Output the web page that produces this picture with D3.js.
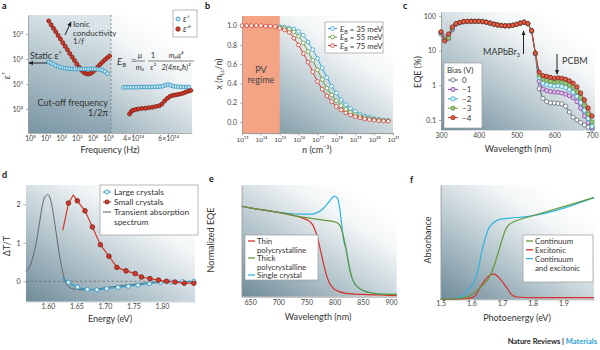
<!DOCTYPE html>
<html>
<head>
<meta charset="utf-8">
<script src="https://cdn.jsdelivr.net/npm/d3@7"></script>
<style>
  body { margin: 0; background: #fff; }
</style>
</head>
<body>
<script>
// ---------- DATA ----------
// a: dielectric spectrum. low-frequency part: log10(f / Hz) and log10(value)
const aLogF = [1.2, 1.35, 1.5, 1.65, 1.8, 1.95, 2.1, 2.25, 2.4, 2.55, 2.7, 2.85, 3.0, 3.15, 3.3, 3.45, 3.6, 3.75, 3.9, 4.05, 4.2, 4.35, 4.5, 4.65, 4.8, 4.95, 5.1];
const aEps2Low = [3.52, 3.37, 3.23, 3.09, 2.94, 2.80, 2.65, 2.51, 2.37, 2.22, 2.08, 1.94, 1.80, 1.67, 1.55, 1.46, 1.41, 1.40, 1.43, 1.50, 1.59, 1.69, 1.79, 1.88, 1.97, 2.05, 2.12];
const aEps1Low = [1.88, 1.84, 1.79, 1.74, 1.70, 1.67, 1.65, 1.63, 1.62, 1.61, 1.60, 1.60, 1.60, 1.60, 1.60, 1.60, 1.60, 1.60, 1.60, 1.60, 1.60, 1.59, 1.58, 1.55, 1.50, 1.42];
// optical part: f in units of 1e14 Hz
const aHighF1 = [3.45, 3.6, 3.75, 3.9, 4.05, 4.2, 4.35, 4.5, 4.65, 4.8, 4.95, 5.1, 5.25, 5.4, 5.55, 5.7, 5.85, 6.0, 6.15, 6.3, 6.45, 6.6, 6.75, 6.9, 7.05, 7.2];
const aEps1High = [0.86, 0.87, 0.87, 0.87, 0.87, 0.87, 0.88, 0.88, 0.88, 0.88, 0.88, 0.88, 0.89, 0.89, 0.9, 0.91, 0.95, 0.98, 0.95, 0.91, 0.9, 0.89, 0.88, 0.88, 0.88, 0.88];
const aHighF2 = [3.8, 3.9, 4.0, 4.15, 4.3, 4.5, 4.7, 4.9, 5.1, 5.3, 5.5, 5.65, 5.8, 5.95, 6.1, 6.25, 6.4, 6.55, 6.7, 6.85, 7.0, 7.15, 7.3];
const aEps2High = [-0.2, -0.1, -0.05, -0.02, 0.0, 0.02, 0.03, 0.05, 0.07, 0.1, 0.13, 0.2, 0.32, 0.42, 0.5, 0.54, 0.56, 0.58, 0.6, 0.63, 0.67, 0.71, 0.74];
const aYTicks = [0, 1, 2, 3];
const aXTicksLow = [0, 1, 2, 3, 4, 5];
const aXTicksHigh = [4, 6];

// b: fraction of free carriers vs log10(n / cm^-3)
const bLogN = [13, 13.25, 13.5, 13.75, 14, 14.25, 14.5, 14.75, 15, 15.25, 15.5, 15.75, 16, 16.25, 16.5, 16.75, 17, 17.25, 17.5, 17.75, 18, 18.25, 18.5, 18.75, 19, 19.25, 19.5, 19.75, 20, 20.25, 20.5, 20.75];
const bRed = [1.0, 1.0, 1.0, 1.0, 1.0, 0.995, 0.995, 0.99, 0.97, 0.955, 0.93, 0.87, 0.80, 0.71, 0.62, 0.52, 0.42, 0.34, 0.27, 0.21, 0.16, 0.125, 0.095, 0.072, 0.055, 0.042, 0.032, 0.024, 0.018, 0.013, 0.01, 0.007];
const bBlue = [0.99, 0.985, 0.975, 0.965, 0.94, 0.90, 0.83, 0.75, 0.66, 0.56, 0.46, 0.37, 0.30, 0.23, 0.18, 0.14, 0.11, 0.08, 0.06, 0.05, 0.035, 0.027, 0.02, 0.015];
const bGreen = [0.98, 0.975, 0.96, 0.935, 0.89, 0.82, 0.73, 0.64, 0.54, 0.44, 0.35, 0.28, 0.22, 0.17, 0.13, 0.10, 0.075, 0.06, 0.045, 0.035, 0.027, 0.02, 0.015, 0.011];
const bEnergies = ['35', '55', '75'];
const bYTicks = [0, 0.2, 0.4, 0.6, 0.8, 1.0];
const bXTicks = [13, 14, 15, 16, 17, 18, 19, 20, 21];

// c: EQE (%) vs wavelength under bias
const cWave = [300, 310, 320, 330, 340, 350, 360, 370, 380, 390, 400, 410, 420, 430, 440, 450, 460, 470, 480, 490, 500, 510, 520, 530, 540, 550, 560, 570, 580, 590, 600, 610, 620, 630, 640, 650, 660, 670, 680, 690, 700];
const cBias0 = [30, 25, 22, 40, 58, 64, 68, 69, 70, 70, 70, 69, 66, 62, 58, 55, 53, 52, 52, 54, 57, 62, 66, 60, 36, 8, 0.8, 0.42, 0.34, 0.31, 0.31, 0.3, 0.29, 0.25, 0.17, 0.12, 0.1, 0.085, 0.072, 0.062, 0.054];
const cBias1 = [32, 23, 24, 42, 59, 64, 68, 69, 70, 70, 70, 69, 66, 62, 58, 55, 53, 52, 52, 54, 57, 62, 66, 60, 37, 8.2, 1.3, 0.78, 0.7, 0.66, 0.64, 0.63, 0.6, 0.56, 0.5, 0.44, 0.34, 0.22, 0.13, 0.085, 0.06];
const cBias2 = [33, 22, 26, 44, 59, 64, 68, 69, 70, 70, 70, 69, 66, 62, 58, 55, 53, 52, 52, 54, 57, 62, 66, 60, 37, 8.3, 1.7, 1.15, 1.05, 1.0, 0.95, 0.97, 0.93, 0.86, 0.75, 0.63, 0.48, 0.32, 0.19, 0.11, 0.065];
const cBias3 = [34, 21, 24, 46, 60, 65, 68, 69, 70, 70, 70, 69, 66, 62, 58, 55, 53, 52, 52, 54, 57, 62, 66, 60, 38, 8.4, 2.0, 1.5, 1.4, 1.3, 1.25, 1.28, 1.25, 1.15, 1.0, 0.85, 0.65, 0.45, 0.27, 0.15, 0.088];
const cBias4 = [35, 19, 30, 48, 60, 65, 69, 70, 70, 70, 70, 69, 66, 62, 58, 55, 53, 52, 52, 54, 57, 62, 66, 60, 38, 8.5, 2.4, 1.9, 1.8, 1.7, 1.6, 1.65, 1.6, 1.5, 1.35, 1.15, 0.9, 0.6, 0.38, 0.22, 0.13];
const cBiasLabels = ['0', '\u22121', '\u22122', '\u22123', '\u22124'];
const cYTicks = [0.1, 1, 10, 100];
const cXTicks = [300, 400, 500, 600, 700];

// d: ΔT/T vs energy (eV)
const dGrayE = [1.5615, 1.57, 1.575, 1.58, 1.585, 1.59, 1.595, 1.60, 1.605, 1.61, 1.615, 1.62, 1.625, 1.63, 1.635, 1.64, 1.65, 1.66, 1.67, 1.68, 1.70, 1.72, 1.74, 1.76, 1.78, 1.80, 1.83, 1.858];
const dGrayV = [0.25, 0.45, 0.7, 1.05, 1.5, 1.95, 2.2, 2.25, 2.1, 1.7, 1.2, 0.7, 0.3, 0.0, -0.12, -0.18, -0.21, -0.22, -0.22, -0.21, -0.17, -0.13, -0.09, -0.06, -0.03, -0.02, -0.02, -0.01];
const dBlueE = [1.626, 1.636, 1.652, 1.669, 1.686, 1.703, 1.723, 1.741, 1.758, 1.778, 1.797, 1.816, 1.836, 1.856];
const dBlueV = [0.07, -0.03, -0.15, -0.21, -0.22, -0.19, -0.16, -0.13, -0.1, -0.06, -0.03, -0.02, -0.01, 0.0];
const dRedE = [1.626, 1.636, 1.6446, 1.6515, 1.665, 1.678, 1.692, 1.707, 1.721, 1.737, 1.753, 1.764, 1.779, 1.794, 1.808, 1.823, 1.839, 1.856];
const dRedV = [1.32, 2.03, 2.24, 2.09, 1.83, 1.41, 0.95, 0.65, 0.36, 0.27, 0.2, 0.11, 0.07, 0.03, 0.0, -0.02, -0.05, -0.05];
const dXTicks = [1.60, 1.65, 1.70, 1.75, 1.80];
const dYTicks = [0, 1, 2];

// e: normalized EQE vs wavelength (nm)
const eRedW = [635, 650, 675, 700, 720, 740, 750, 760, 765, 770, 775, 780, 785, 790, 795, 800, 820, 850, 880, 910];
const eRedV = [0.81, 0.795, 0.775, 0.755, 0.735, 0.71, 0.69, 0.65, 0.60, 0.52, 0.41, 0.30, 0.20, 0.13, 0.09, 0.065, 0.03, 0.02, 0.015, 0.01];
const eGreenW = [635, 650, 675, 700, 720, 740, 760, 780, 800, 805, 810, 815, 820, 825, 830, 835, 840, 850, 870, 890, 910];
const eGreenV = [0.81, 0.795, 0.775, 0.755, 0.735, 0.715, 0.70, 0.685, 0.67, 0.66, 0.63, 0.55, 0.43, 0.29, 0.18, 0.12, 0.09, 0.055, 0.03, 0.02, 0.02];
const eBlueW = [635, 650, 675, 700, 720, 740, 760, 770, 780, 790, 800, 805, 810, 813, 816, 820, 825, 830, 835, 840, 850, 870, 890, 910];
const eBlueV = [0.81, 0.795, 0.775, 0.755, 0.745, 0.74, 0.74, 0.755, 0.79, 0.85, 0.90, 0.88, 0.75, 0.62, 0.50, 0.43, 0.29, 0.18, 0.12, 0.09, 0.055, 0.03, 0.02, 0.02];
const eXTicks = [650, 700, 750, 800, 850, 900];

// f: absorbance vs photoenergy (eV)
const fGreenE = [1.5, 1.55, 1.58, 1.60, 1.62, 1.64, 1.66, 1.675, 1.69, 1.70, 1.71, 1.72, 1.74, 1.76, 1.786, 2.0];
const fGreenV = [0, 0.005, 0.015, 0.04, 0.08, 0.13, 0.2, 0.3, 0.43, 0.52, 0.6, 0.645, 0.68, 0.70, 0.72, 0.89];
const fBlueE = [1.5, 1.54, 1.563, 1.58, 1.596, 1.612, 1.623, 1.634, 1.645, 1.655, 1.672, 1.693, 1.726, 1.786, 2.0];
const fBlueV = [0, 0.005, 0.02, 0.05, 0.1, 0.17, 0.27, 0.42, 0.53, 0.61, 0.67, 0.70, 0.71, 0.725, 0.89];
const fRedE = [1.5, 1.58, 1.60, 1.612, 1.628, 1.645, 1.66, 1.674, 1.69, 1.705, 1.716, 1.733, 1.75, 1.8, 2.0];
const fRedV = [0.0, 0.005, 0.015, 0.03, 0.1, 0.17, 0.21, 0.22, 0.19, 0.14, 0.1, 0.035, 0.02, 0.015, 0.015];
const fXTicks = [1.5, 1.6, 1.7, 1.8, 1.9];

// ---------- COLOURS ----------
const RED = '#d3392b', RED_DK = '#7a1c12', BLUE = '#34a5d2', GREEN = '#62993c',
  PURPLE = '#8b45a8', GRAY = '#5e6870', AXIS = '#9a9a9a', TEXT = '#333';

// ---------- HELPERS ----------
const SUP = { '0': '⁰', '1': '¹', '2': '²', '3': '³', '4': '⁴', '5': '⁵', '6': '⁶', '7': '⁷', '8': '⁸', '9': '⁹', '-': '⁻' };
const sup = s => String(s).split('').map(c => SUP[c] || c).join('');

const svg = d3.select('body').append('svg').attr('width', 600).attr('height', 350)
  .style('font-family', 'Lato, "Noto Sans", sans-serif');
const defs = svg.append('defs');

function grad(id, x1, y1, x2, y2, stops) {
  const g = defs.append('linearGradient').attr('id', id)
    .attr('x1', x1).attr('y1', y1).attr('x2', x2).attr('y2', y2);
  stops.forEach(s => g.append('stop').attr('offset', s[0]).attr('stop-color', s[1]));
}
grad('bg', 0, 1, 0.8, 0.1, [[0, '#6f8b99'], [0.45, '#b9c9d0'], [0.8, '#f3f6f7'], [1, '#ffffff']]);
grad('bgA', 0, 1, 0.2, 0, [[0, '#7a96a4'], [1, '#d5e1e6']]);

defs.append('marker').attr('id', 'arr').attr('viewBox', '0 0 8 8')
  .attr('refX', 7).attr('refY', 4).attr('markerWidth', 5).attr('markerHeight', 5)
  .attr('orient', 'auto')
  .append('path').attr('d', 'M0,0.5 L8,4 L0,7.5 z').attr('fill', '#222');

function styleAxis(g) {
  g.attr('font-family', null).attr('font-size', 7);
  g.selectAll('.domain').attr('stroke', AXIS).attr('stroke-width', 0.8);
  g.selectAll('.tick line').attr('stroke', AXIS).attr('stroke-width', 0.8);
  g.selectAll('.tick text').attr('fill', '#444');
}

function txt(g, x, y, s, o = {}) {
  return g.append('text').attr('x', x).attr('y', y).text(s)
    .attr('font-size', o.size || 8.5).attr('fill', o.fill || TEXT)
    .attr('text-anchor', o.anchor || 'start')
    .attr('font-weight', o.bold ? 'bold' : null)
    .attr('font-style', o.italic ? 'italic' : null)
    .attr('transform', o.rot ? `rotate(-90 ${x} ${y})` : null);
}

function line(g, pts, x, y, color, w, curve) {
  g.append('path').datum(pts)
    .attr('d', d3.line().x(d => x(d[0])).y(d => y(d[1])).curve(curve || d3.curveLinear))
    .attr('fill', 'none').attr('stroke', color).attr('stroke-width', w);
}

function dots(g, pts, x, y, r, fill, stroke) {
  g.append('g').selectAll('circle').data(pts).join('circle')
    .attr('cx', d => x(d[0])).attr('cy', d => y(d[1])).attr('r', r)
    .attr('fill', fill).attr('stroke', stroke).attr('stroke-width', 0.8);
}

function panelBg(g, x, y) {
  g.append('rect').attr('x', x.range()[0]).attr('y', y.range()[1])
    .attr('width', x.range()[1] - x.range()[0]).attr('height', y.range()[0] - y.range()[1])
    .attr('fill', 'url(#bg)');
}

// panel letters
[['a', 2, 9], ['b', 205, 9], ['c', 403, 9], ['d', 2, 178], ['e', 209, 182], ['f', 410, 183]]
  .forEach(p => txt(svg, p[1], p[2], p[0], { bold: true, size: 9, fill: '#111' }));

// ---------- PANEL A ----------
(function() {
  const g = svg.append('g');
  const xLow = d3.scaleLinear().domain([-0.13, 5.19]).range([28, 111]);
  const xHigh = d3.scaleLinear().domain([2.74, 7.37]).range([111, 192]);
  const y = d3.scaleLinear().domain([-0.96, 3.76]).range([133, 15]);
  const full = d3.scaleLinear().range([xLow.range()[0], xHigh.range()[1]]);

  panelBg(g, full, y);
  g.append('rect').attr('x', xLow.range()[0]).attr('y', y.range()[1])
    .attr('width', xLow.range()[1] - xLow.range()[0]).attr('height', y.range()[0] - y.range()[1])
    .attr('fill', 'url(#bgA)').attr('opacity', 0.85);
  g.append('line').attr('x1', xLow.range()[1]).attr('x2', xLow.range()[1])
    .attr('y1', y.range()[1]).attr('y2', y.range()[0])
    .attr('stroke', '#777').attr('stroke-width', 0.8).attr('stroke-dasharray', '2,2');

  g.append('g').attr('transform', 'translate(0,133)')
    .call(d3.axisBottom(xLow).tickValues(aXTicksLow).tickFormat(d => '10' + sup(d)).tickSize(2).tickPadding(1.5).tickSizeOuter(0))
    .call(styleAxis);
  g.append('g').attr('transform', 'translate(0,133)')
    .call(d3.axisBottom(xHigh).tickValues(aXTicksHigh).tickFormat(d => d + '×10¹⁴').tickSize(2).tickPadding(1.5).tickSizeOuter(0))
    .call(styleAxis);
  g.append('g').attr('transform', 'translate(28,0)')
    .call(d3.axisLeft(y).tickValues(aYTicks).tickFormat(d => '10' + sup(d)).tickSize(2).tickSizeOuter(0))
    .call(styleAxis);

  dots(g, d3.zip(aLogF, aEps2Low), xLow, y, 2, RED, RED_DK);
  dots(g, d3.zip(aLogF, aEps1Low), xLow, y, 1.9, '#c4e8f4', '#2b8fbd');
  dots(g, d3.zip(aHighF1, aEps1High), xHigh, y, 1.9, '#c4e8f4', '#2b8fbd');
  dots(g, d3.zip(aHighF2, aEps2High), xHigh, y, 2, RED, RED_DK);

  // annotations
  txt(g, 30, 59, 'Static ε′', { size: 9 });
  g.append('line').attr('x1', 47).attr('y1', 63).attr('x2', 29).attr('y2', 63)
    .attr('stroke', '#222').attr('stroke-width', 1).attr('marker-end', 'url(#arr)');
  txt(g, 73, 27, 'Ionic', { size: 8 });
  txt(g, 73, 35.7, 'conductivity', { size: 8 });
  const f1 = txt(g, 73, 44.4, '1/', { size: 8 });
  f1.append('tspan').attr('font-style', 'italic').text('f');
  g.append('line').attr('x1', 65).attr('y1', 35).attr('x2', 71).attr('y2', 22)
    .attr('stroke', '#222').attr('stroke-width', 1).attr('marker-end', 'url(#arr)');
  txt(g, 108, 106, 'Cut-off frequency', { anchor: 'end', size: 9 });
  txt(g, 108, 116, '1/2π', { anchor: 'end', size: 9 });

  // binding energy formula
  const e = txt(g, 117, 65, 'E', { italic: true, size: 9.5 });
  e.append('tspan').attr('dy', 2).attr('font-size', 6).attr('font-style', 'normal').text('B');
  txt(g, 131, 64, '=', { size: 9 });
  const fracs = [[140, 'μ', 'm₀'], [153, '1', 'ε²'], [176, 'm₀q⁴', '2(4πε₀ħ)²']];
  fracs.forEach(fr => {
    txt(g, fr[0], 57.5, fr[1], { anchor: 'middle', size: 7.5, italic: fr[1] !== '1' });
    txt(g, fr[0], 69.5, fr[2], { anchor: 'middle', size: 7.5, italic: true });
    const w = fr[2].length > 4 ? 18 : 5;
    g.append('line').attr('x1', fr[0] - w).attr('x2', fr[0] + w).attr('y1', 61).attr('y2', 61)
      .attr('stroke', '#333').attr('stroke-width', 0.6);
  });

  // legend
  g.append('rect').attr('x', 173).attr('y', 10).attr('width', 24).attr('height', 27)
    .attr('fill', '#fff').attr('stroke', AXIS).attr('stroke-width', 0.7);
  g.append('circle').attr('cx', 178).attr('cy', 19).attr('r', 2).attr('fill', '#c4e8f4').attr('stroke', '#2b8fbd').attr('stroke-width', 0.8);
  g.append('circle').attr('cx', 178).attr('cy', 29).attr('r', 2.2).attr('fill', RED).attr('stroke', RED_DK).attr('stroke-width', 0.8);
  txt(g, 183, 22, 'ε′', { italic: true });
  txt(g, 183, 32, 'ε″', { italic: true });

  txt(g, 10, 76, 'ε′', { rot: true, anchor: 'middle', italic: true, size: 9 });
  txt(g, 110, 153, 'Frequency (Hz)', { anchor: 'middle', size: 9 });
})();

// ---------- PANEL B ----------
(function() {
  const g = svg.append('g');
  const x = d3.scaleLinear().domain([13, 21]).range([242, 393]);
  const y = d3.scaleLinear().domain([-0.115, 1.1]).range([133, 16]);

  panelBg(g, x, y);
  g.append('rect').attr('x', x(13)).attr('y', y.range()[1])
    .attr('width', x(15) - x(13)).attr('height', y.range()[0] - y.range()[1])
    .attr('fill', '#f5a385');
  txt(g, (x(13) + x(15)) / 2, 73, 'PV', { anchor: 'middle', size: 9, fill: '#444' });
  txt(g, (x(13) + x(15)) / 2, 83, 'regime', { anchor: 'middle', size: 9, fill: '#444' });

  const minor = [];
  for (let n = 13; n < 21; n++) for (let k = 2; k < 10; k++) minor.push(n + Math.log10(k));
  g.append('g').attr('transform', 'translate(0,133)')
    .call(d3.axisBottom(x).tickValues(minor).tickFormat('').tickSize(1.3).tickSizeOuter(0)).call(styleAxis);
  g.append('g').attr('transform', 'translate(0,133)')
    .call(d3.axisBottom(x).tickValues(bXTicks).tickFormat(d => '10' + sup(d)).tickSize(2.5).tickPadding(1.5).tickSizeOuter(0))
    .call(styleAxis).attr('font-size', 6.5);
  g.append('g').attr('transform', 'translate(242,0)')
    .call(d3.axisLeft(y).tickValues(bYTicks).tickFormat(d3.format('.1f')).tickSize(2).tickSizeOuter(0))
    .call(styleAxis);

  const series = [[bLogN.slice(8), bBlue, BLUE], [bLogN.slice(8), bGreen, GREEN], [bLogN, bRed, RED]];
  series.forEach(s => {
    const pts = d3.zip(s[0], s[1]);
    line(g, pts, x, y, s[2], 1, d3.curveMonotoneX);
    dots(g, pts, x, y, 1.9, '#fff', s[2]);
  });

  // legend
  g.append('rect').attr('x', 325).attr('y', 22).attr('width', 58).attr('height', 31)
    .attr('fill', '#fff').attr('stroke', AXIS).attr('stroke-width', 0.7);
  series.forEach((s, i) => {
    const cy = 28.5 + i * 8.5;
    g.append('line').attr('x1', 328).attr('x2', 337).attr('y1', cy).attr('y2', cy).attr('stroke', s[2]).attr('stroke-width', 1);
    g.append('circle').attr('cx', 332.5).attr('cy', cy).attr('r', 1.9).attr('fill', '#fff').attr('stroke', s[2]).attr('stroke-width', 0.8);
    const t = txt(g, 340, cy + 3, 'E', { size: 7.8, italic: true });
    t.append('tspan').attr('dy', 2).attr('font-size', 5.5).attr('font-style', 'normal').text('B');
    t.append('tspan').attr('dy', -2).attr('font-style', 'normal').text(` = ${bEnergies[i]} meV`);
  });

  const yl = txt(g, 222, 74, 'x (n', { rot: true, anchor: 'middle', size: 9 });
  yl.append('tspan').attr('dy', 2).attr('font-size', 6).text('l,c');
  yl.append('tspan').attr('dy', -2).text('/n)');
  const xl = txt(g, 317, 153, 'n', { anchor: 'middle', italic: true, size: 9 });
  xl.append('tspan').attr('font-style', 'normal').text(' (cm⁻³)');
})();

// ---------- PANEL C ----------
(function() {
  const g = svg.append('g');
  const x = d3.scaleLinear().domain([300, 700]).range([441, 592]);
  const y = d3.scaleLog().domain([0.0515, 130]).range([130, 12]);
  panelBg(g, d3.scaleLinear().range([441, 595]), y);

  g.append('g').attr('transform', 'translate(0,130)')
    .call(d3.axisBottom(x).tickValues(cXTicks).tickSize(0).tickPadding(3).tickSizeOuter(0))
    .call(styleAxis).call(a => a.select('.domain').attr('stroke', '#ccd6db'));
  g.append('g').attr('transform', 'translate(441,0)')
    .call(d3.axisLeft(y).tickValues(cYTicks).tickFormat(d => String(d)).tickSize(2).tickSizeOuter(0))
    .call(styleAxis);

  const series = [
    [cBias0, GRAY, '#fff'], [cBias1, PURPLE, '#d9c2e3'], [cBias2, BLUE, '#e2f3fa'],
    [cBias3, GREEN, '#9cc27f'], [cBias4, RED, '#e8604a']
  ];
  series.forEach(s => {
    const pts = d3.zip(cWave, s[0]);
    line(g, pts, x, y, s[1], 1);
    dots(g, pts, x, y, 2.1, s[2], s[0] === cBias4 ? RED_DK : s[1]);
  });

  // arrows
  txt(g, 520, 55, 'MAPbBr', { anchor: 'end', size: 9 }).append('tspan').attr('dy', 2).attr('font-size', 5.5).text('3');
  g.append('line').attr('x1', 523.5).attr('x2', 523.5).attr('y1', 54).attr('y2', 31)
    .attr('stroke', '#222').attr('stroke-width', 1).attr('marker-end', 'url(#arr)');
  txt(g, 562, 64, 'PCBM', { size: 9 });
  g.append('line').attr('x1', 557).attr('x2', 557).attr('y1', 54).attr('y2', 74)
    .attr('stroke', '#222').attr('stroke-width', 1).attr('marker-end', 'url(#arr)');

  // legend
  g.append('rect').attr('x', 444).attr('y', 63).attr('width', 38).attr('height', 65)
    .attr('fill', '#fff').attr('stroke', AXIS).attr('stroke-width', 0.7);
  txt(g, 447, 73, 'Bias (V)', { size: 8 });
  series.forEach((s, i) => {
    const cy = 80 + i * 9.4;
    g.append('line').attr('x1', 448).attr('x2', 458).attr('y1', cy).attr('y2', cy).attr('stroke', s[1]).attr('stroke-width', 1);
    g.append('circle').attr('cx', 453).attr('cy', cy).attr('r', 2.1).attr('fill', s[2])
      .attr('stroke', i === 4 ? RED_DK : s[1]).attr('stroke-width', 0.8);
    txt(g, 462, cy + 3, cBiasLabels[i], { size: 8 });
  });

  txt(g, 421, 72, 'EQE (%)', { rot: true, anchor: 'middle', size: 9 });
  txt(g, 518, 152, 'Wavelength (nm)', { anchor: 'middle', size: 9 });
})();

// ---------- PANEL D ----------
(function() {
  const g = svg.append('g');
  const x = d3.scaleLinear().domain([1.5615, 1.858]).range([26, 195]);
  const y = d3.scaleLinear().domain([-0.53, 2.5]).range([301.7, 185]);
  panelBg(g, x, y);

  g.append('line').attr('x1', x.range()[0]).attr('x2', x.range()[1]).attr('y1', y(0)).attr('y2', y(0))
    .attr('stroke', '#666').attr('stroke-width', 0.7).attr('stroke-dasharray', '2.5,2');
  g.append('g').attr('transform', 'translate(0,301.7)')
    .call(d3.axisBottom(x).tickValues(dXTicks).tickFormat(d3.format('.2f')).tickSize(0).tickPadding(2).tickSizeOuter(0))
    .call(styleAxis).call(a => a.select('.domain').attr('stroke', '#ccd6db'));
  g.append('g').attr('transform', 'translate(26,0)')
    .call(d3.axisLeft(y).tickValues(dYTicks).tickFormat(d3.format('d')).tickSize(2.5).tickSizeOuter(0))
    .call(styleAxis).call(a => a.select('.domain').attr('stroke', 'none'));

  line(g, d3.zip(dGrayE, dGrayV), x, y, GRAY, 1, d3.curveMonotoneX);
  const blue = d3.zip(dBlueE, dBlueV);
  line(g, blue, x, y, '#2b9fcf', 1.2, d3.curveMonotoneX);
  dots(g, blue.slice(1), x, y, 2.1, '#e3f4fb', '#2b95c4');
  const red = d3.zip(dRedE, dRedV);
  line(g, red, x, y, RED, 1.2);
  dots(g, red.filter((d, i) => i !== 0 && i !== 2), x, y, 2.3, RED, RED_DK);

  // legend
  g.append('rect').attr('x', 100).attr('y', 185).attr('width', 98).attr('height', 50)
    .attr('fill', '#fff').attr('stroke', AXIS).attr('stroke-width', 0.7);
  const rows = [['Large crystals', '#2b9fcf', '#e3f4fb', '#2b95c4'], ['Small crystals', RED, RED, RED_DK], ['Transient absorption', GRAY, null, null]];
  rows.forEach((r, i) => {
    const cy = 192 + i * 10;
    g.append('line').attr('x1', 103).attr('x2', 111).attr('y1', cy).attr('y2', cy).attr('stroke', r[1]).attr('stroke-width', 1.1);
    if (r[2]) g.append('circle').attr('cx', 107).attr('cy', cy).attr('r', 2.1).attr('fill', r[2]).attr('stroke', r[3]).attr('stroke-width', 0.8);
    txt(g, 114, cy + 3, r[0], { size: 8.4 });
  });
  txt(g, 114, 225, 'spectrum', { size: 8.4 });

  txt(g, 10, 246, 'ΔT/T', { rot: true, anchor: 'middle', size: 9 });
  txt(g, 110, 322, 'Energy (eV)', { anchor: 'middle', size: 9 });
})();

// ---------- PANEL E ----------
(function() {
  const g = svg.append('g');
  const x = d3.scaleLinear().domain([635, 910]).range([241.7, 396.7]);
  const y = d3.scaleLinear().domain([0, 1]).range([296.7, 185]);
  panelBg(g, x, y);

  g.append('g').attr('transform', 'translate(0,296.7)')
    .call(d3.axisBottom(x).tickValues(eXTicks).tickSize(0).tickPadding(3).tickSizeOuter(0))
    .call(styleAxis);
  g.append('g').attr('transform', 'translate(241.7,0)')
    .call(d3.axisLeft(y).tickValues([]).tickSizeOuter(0)).call(styleAxis);

  line(g, d3.zip(eBlueW, eBlueV), x, y, '#2fb3de', 1.2, d3.curveMonotoneX);
  line(g, d3.zip(eRedW, eRedV), x, y, '#d8302a', 1.2, d3.curveMonotoneX);
  line(g, d3.zip(eGreenW, eGreenV), x, y, GREEN, 1.2, d3.curveMonotoneX);

  g.append('rect').attr('x', 245).attr('y', 235).attr('width', 73).attr('height', 45)
    .attr('fill', '#fff').attr('stroke', AXIS).attr('stroke-width', 0.7);
  const rows = [['Thin', 'polycrystalline', '#d8302a'], ['Thick', 'polycrystalline', GREEN], ['Single crystal', null, '#2fb3de']];
  rows.forEach((r, i) => {
    const cy = 241 + i * 17;
    g.append('line').attr('x1', 248).attr('x2', 255).attr('y1', cy).attr('y2', cy).attr('stroke', r[2]).attr('stroke-width', 1.3);
    txt(g, 257, cy + 3, r[0], { size: 7.8 });
    if (r[1]) txt(g, 257, cy + 11.5, r[1], { size: 7.8 });
  });

  txt(g, 214, 240, 'Normalized EQE', { rot: true, anchor: 'middle', size: 9 });
  txt(g, 318, 320, 'Wavelength (nm)', { anchor: 'middle', size: 9 });
})();

// ---------- PANEL F ----------
(function() {
  const g = svg.append('g');
  const x = d3.scaleLinear().domain([1.5, 2.0]).range([440.7, 594]);
  const y = d3.scaleLinear().domain([0, 1]).range([299.3, 185]);
  panelBg(g, x, y);

  g.append('g').attr('transform', 'translate(0,299.3)')
    .call(d3.axisBottom(x).tickValues(fXTicks).tickFormat(d3.format('.1f')).tickSize(0).tickPadding(2).tickSizeOuter(0))
    .call(styleAxis);
  g.append('g').attr('transform', 'translate(440.7,0)')
    .call(d3.axisLeft(y).tickValues([]).tickSizeOuter(0)).call(styleAxis);

  line(g, d3.zip(fBlueE, fBlueV), x, y, '#2fb3de', 1.2, d3.curveMonotoneX);
  line(g, d3.zip(fRedE, fRedV), x, y, '#d8302a', 1.2, d3.curveMonotoneX);
  line(g, d3.zip(fGreenE, fGreenV), x, y, GREEN, 1.2, d3.curveMonotoneX);

  g.append('rect').attr('x', 523).attr('y', 235).attr('width', 70).attr('height', 47)
    .attr('fill', '#fff').attr('stroke', AXIS).attr('stroke-width', 0.7);
  const rows = [['Continuum', GREEN], ['Excitonic', '#d8302a'], ['Continuum', '#2fb3de']];
  rows.forEach((r, i) => {
    const cy = 241 + i * 8.8;
    g.append('line').attr('x1', 526).attr('x2', 533).attr('y1', cy).attr('y2', cy).attr('stroke', r[1]).attr('stroke-width', 1.3);
    txt(g, 535, cy + 3, r[0], { size: 7.8 });
  });
  txt(g, 535, 270.5, 'and excitonic', { size: 7.8 });

  txt(g, 431, 240, 'Absorbance', { rot: true, anchor: 'middle', size: 9 });
  txt(g, 517, 321, 'Photoenergy (eV)', { anchor: 'middle', size: 9 });
})();

// footer
const foot = txt(svg, 597, 344, 'Nature Reviews | ', { anchor: 'end', bold: true, size: 7.5, fill: '#222' });
foot.append('tspan').attr('fill', '#2a9fd6').text('Materials');
</script>
</body>
</html>
